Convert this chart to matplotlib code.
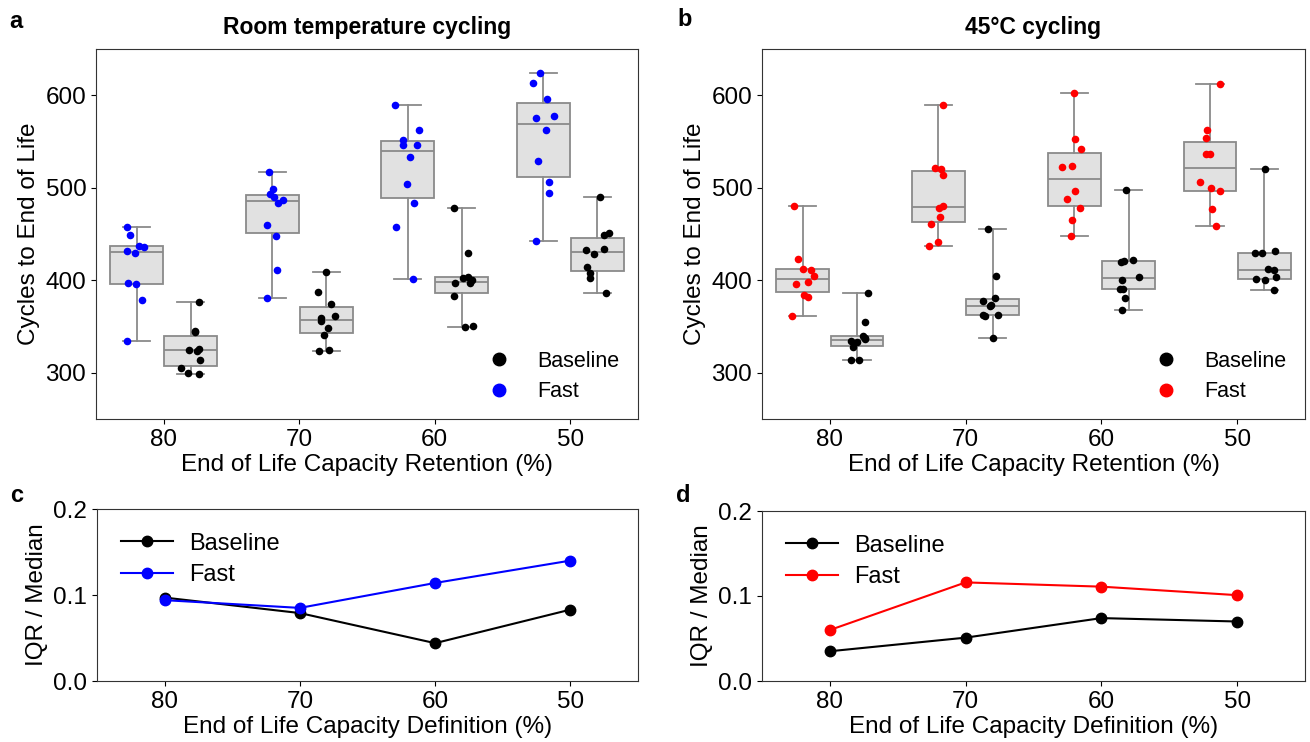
import numpy as np
import matplotlib
matplotlib.use("Agg")
import matplotlib.pyplot as plt
from matplotlib.lines import Line2D

plt.rcParams['font.family'] = ['Liberation Sans', 'DejaVu Sans']

categories = ["80", "70", "60", "50"]

# Panel a: room temperature cycling (cycles to end of life)
rt_fast = [
    [458, 449, 436, 437, 432, 430, 396, 397, 379, 334],
    [517, 499, 493, 490, 484, 487, 460, 448, 411, 381],
    [590, 562, 552, 546, 546, 533, 504, 484, 458, 401],
    [624, 613, 596, 578, 575, 562, 529, 506, 494, 442],
]
rt_base = [
    [377, 345, 344, 326, 325, 324, 314, 305, 299, 300],
    [409, 387, 374, 359, 361, 356, 348, 341, 325, 324],
    [478, 430, 404, 402, 400, 397, 397, 383, 351, 350],
    [490, 451, 449, 434, 433, 428, 414, 408, 402, 386],
]

# Panel b: 45C cycling
ht_fast = [
    [480, 423, 412, 411, 405, 398, 396, 384, 382, 361],
    [590, 521, 520, 514, 480, 478, 468, 461, 441, 437],
    [602, 553, 542, 523, 522, 496, 488, 478, 465, 448],
    [612, 562, 554, 537, 537, 506, 500, 496, 477, 459],
]
ht_base = [
    [386, 355, 340, 338, 336, 334, 333, 328, 314, 314],
    [455, 405, 381, 378, 373, 372, 362, 362, 361, 338],
    [498, 422, 421, 420, 404, 400, 391, 391, 381, 368],
    [520, 432, 430, 430, 412, 411, 404, 401, 400, 389],
]

# Panels c, d: IQR / median
c_base = [0.097, 0.079, 0.044, 0.083]
c_fast = [0.094, 0.085, 0.114, 0.140]
d_base = [0.035, 0.051, 0.074, 0.070]
d_fast = [0.060, 0.116, 0.111, 0.101]

W, H = 1310, 742
fig = plt.figure(figsize=(W / 100, H / 100), dpi=100)

def ax_rect(l, t, r, b):
    return [l / W, 1 - b / H, (r - l) / W, (b - t) / H]

axA = fig.add_axes(ax_rect(96, 49, 638, 419))
axB = fig.add_axes(ax_rect(762, 49, 1305, 419))
axC = fig.add_axes(ax_rect(97, 509, 638, 681))
axD = fig.add_axes(ax_rect(762, 511, 1305, 681))

FS = 17.5
box_face = '#e1e1e1'
box_edge = '#8a8a8a'
rng = np.random.default_rng(3)

def box_panel(ax, fast, base, fast_color, title):
    x = np.arange(len(categories))
    for data, off, col in ((fast, -0.2, fast_color), (base, 0.2, 'black')):
        pos = x + off
        ax.boxplot(data, positions=pos, widths=0.39, whis=(0, 100),
                   patch_artist=True, showfliers=False, manage_ticks=False,
                   boxprops=dict(facecolor=box_face, edgecolor=box_edge, linewidth=1.3),
                   medianprops=dict(color=box_edge, linewidth=1.3),
                   whiskerprops=dict(color=box_edge, linewidth=1.3),
                   capprops=dict(color=box_edge, linewidth=1.3),
                   capwidths=0.2, zorder=1)
        for p, vals in zip(pos, data):
            jit = rng.uniform(-0.09, 0.09, len(vals))
            ax.scatter(p + jit, vals, s=30, color=col, zorder=3, linewidths=0)
    ax.set_xlim(-0.5, 3.5)
    ax.set_ylim(250, 650)
    ax.set_yticks([300, 400, 500, 600])
    ax.set_xticks(x)
    ax.set_xticklabels(categories)
    ax.tick_params(labelsize=FS)
    ax.set_xlabel("End of Life Capacity Retention (%)", fontsize=FS, labelpad=2)
    ax.set_ylabel("Cycles to End of Life", fontsize=FS)
    ax.set_title(title, fontsize=16.5, fontweight='bold', pad=11)
    handles = [Line2D([], [], marker='o', ls='', color='black', markersize=9),
               Line2D([], [], marker='o', ls='', color=fast_color, markersize=9)]
    ax.legend(handles, ["Baseline", "Fast"], loc='lower right', frameon=False,
              fontsize=15.5, handletextpad=0.8, borderaxespad=0.6,
              labelspacing=0.45, bbox_to_anchor=(1.006, -0.013))

box_panel(axA, rt_fast, rt_base, 'blue', "Room temperature cycling")
box_panel(axB, ht_fast, ht_base, 'red', "45°C cycling")

def line_panel(ax, base, fast, fast_color):
    x = np.arange(len(categories))
    ax.plot(x, base, '-o', color='black', markersize=7.5, linewidth=1.5, label='Baseline')
    ax.plot(x, fast, '-o', color=fast_color, markersize=7.5, linewidth=1.5, label='Fast')
    ax.set_xlim(-0.5, 3.5)
    ax.set_ylim(0, 0.2)
    ax.set_yticks([0.0, 0.1, 0.2])
    ax.set_xticks(x)
    ax.set_xticklabels(categories)
    ax.tick_params(labelsize=FS)
    ax.set_xlabel("End of Life Capacity Definition (%)", fontsize=FS, labelpad=2)
    ax.set_ylabel("IQR / Median", fontsize=FS)
    ax.legend(loc='upper left', frameon=False, fontsize=17, handlelength=2.2,
              handletextpad=0.7, labelspacing=0.4, borderaxespad=0.6)

line_panel(axC, c_base, c_fast, 'blue')
line_panel(axD, d_base, d_fast, 'red')

for ax in (axA, axB, axC, axD):
    for s in ax.spines.values():
        s.set_color('#333333')

fig.text(16 / W, 1 - 21 / H, 'a', fontsize=17, fontweight='bold', ha='center', va='center')
fig.text(685 / W, 1 - 20 / H, 'b', fontsize=17, fontweight='bold', ha='center', va='center')
fig.text(17 / W, 1 - 496 / H, 'c', fontsize=17, fontweight='bold', ha='center', va='center')
fig.text(683 / W, 1 - 496 / H, 'd', fontsize=17, fontweight='bold', ha='center', va='center')

fig.savefig("out.png", dpi=100)
